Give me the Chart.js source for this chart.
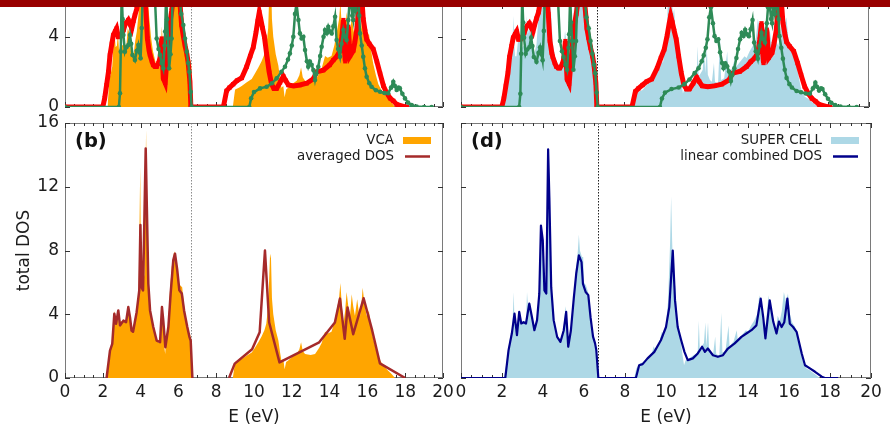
<!DOCTYPE html>
<html>
<head>
<meta charset="utf-8">
<title>Total DOS: VCA vs super cell</title>
<script src="https://cdn.jsdelivr.net/npm/chart.js@4.4.1/dist/chart.umd.min.js"></script>
<style>
  html, body { margin: 0; padding: 0; background: #fff; }
  #page { position: relative; width: 890px; height: 438px; overflow: hidden; background: #fff; }
  #page canvas { position: absolute; }
  #band { position: absolute; left: 0; top: 0; width: 890px; height: 7px; background: #990000; z-index: 5; }
</style>
</head>
<body>
<div id="page">
  <canvas id="tl" width="460" height="130" style="left:0px;top:-11px"></canvas>
  <canvas id="tr" width="438" height="112" style="left:452px;top:0px"></canvas>
  <canvas id="bl" width="460" height="328" style="left:0px;top:110px"></canvas>
  <canvas id="br" width="438" height="328" style="left:452px;top:110px"></canvas>
  <div id="band"></div>
</div>
<script>
// ---------- axis ticks ----------
const X_TICKS = [0, 2, 4, 6, 8, 10, 12, 14, 16, 18, 20];
const Y_TICKS_MAIN = [0, 4, 8, 12, 16];
const Y_TICKS_TOP = [0, 4];
const E_FERMI = 6.67;

// ---------- VCA total DOS (orange area) ----------
const VCA_E = [2.25, 2.35, 2.42, 2.5, 2.58, 2.62, 2.68, 2.75, 2.8, 2.86, 2.95, 3.05, 3.15, 3.25, 3.32, 3.38, 3.45, 3.52, 3.62, 3.72,
  3.8, 3.9, 3.98, 4.02, 4.1, 4.2, 4.29, 4.33, 4.38, 4.45, 4.55, 4.65, 4.8, 4.95, 5.05, 5.12, 5.18, 5.25, 5.3, 5.36,
  5.45, 5.55, 5.65, 5.78, 5.85, 5.92, 6.0, 6.1, 6.2, 6.3, 6.4, 6.5, 6.6, 6.68, 6.72,
  8.88, 8.95, 9.0, 9.2, 9.35, 9.6, 9.88, 10.05, 10.23, 10.4, 10.55, 10.65, 10.75, 10.85, 10.9, 10.95, 11.02, 11.15, 11.29, 11.38,
  11.45, 11.55, 11.62, 11.7, 11.81, 12.0, 12.26, 12.4, 12.49, 12.58, 12.7, 13.0, 13.23, 13.45, 13.58, 13.76, 13.9, 14.1, 14.25, 14.37,
  14.5, 14.57, 14.65, 14.73, 14.82, 14.9, 15.0, 15.08, 15.17, 15.25, 15.34, 15.46, 15.55, 15.61, 15.68, 15.75, 15.85, 15.96, 16.08, 16.2,
  16.3, 16.45, 16.58, 16.75, 16.93, 17.1, 17.28, 17.46];
const VCA_DOS = [0, 1.6, 1.9, 2.3, 3.9, 4.2, 3.4, 3.5, 4.3, 3.2, 3.6, 3.5, 3.6, 3.5, 4.5, 4.3, 3.6, 2.9, 2.9, 3.8,
  4.3, 5.4, 13.3, 6.0, 5.7, 6.5, 15.6, 11.4, 6.2, 5.2, 4.0, 3.2, 2.5, 2.2, 2.4, 4.6, 3.6, 2.0, 1.5, 2.6,
  3.2, 5.4, 7.0, 7.95, 7.6, 7.0, 6.0, 5.8, 5.7, 4.6, 3.6, 2.9, 2.8, 2.4, 0,
  0, 0.6, 1.0, 1.1, 1.2, 1.4, 1.6, 1.9, 2.25, 2.6, 3.0, 3.4, 4.5, 7.8, 7.5, 5.0, 4.0, 3.0, 2.35, 1.6,
  1.1, 1.2, 0.55, 1.0, 1.1, 1.3, 1.5, 1.8, 2.25, 1.7, 1.5, 1.45, 1.5, 1.9, 2.2, 2.9, 2.8, 2.9, 3.5, 4.2,
  5.0, 5.96, 4.5, 3.4, 4.2, 5.4, 4.4, 3.9, 5.26, 4.5, 3.9, 4.94, 4.1, 3.9, 4.6, 5.67, 4.6, 3.9, 4.2, 3.2,
  2.5, 1.8, 1.3, 0.95, 0.67, 0.45, 0.25, 0];

// ---------- averaged DOS (line); null marks the gap ----------
const AVG_E = [2.2, 2.38, 2.5, 2.61, 2.7, 2.82, 2.91, 3.09, 3.23, 3.35, 3.44, 3.52, 3.6, 3.79, 3.93, 3.99, 4.05, 4.13, 4.27, 4.33,
  4.41, 4.5, 4.67, 4.85, 5.03, 5.13, 5.2, 5.31, 5.47, 5.59, 5.73, 5.82, 5.94, 6.05, 6.18, 6.3, 6.47, 6.58, 6.65, 6.74,
  7.7,
  8.68, 8.98, 9.9, 10.3, 10.58, 10.8, 11.35, 13.45, 14.28, 14.55, 14.8, 14.95, 15.25, 15.8, 16.25, 16.66, 18.0];
const AVG_DOS = [0, 1.72, 2.14, 4.03, 3.4, 4.24, 3.3, 3.6, 3.5, 4.45, 3.8, 2.98, 2.9, 4.13, 5.5, 9.6, 5.7, 5.5, 14.4, 10.75,
  5.9, 4.24, 3.2, 2.35, 2.25, 4.45, 3.6, 1.93, 3.2, 5.3, 7.4, 7.8, 6.76, 5.5, 5.3, 4.24, 3.2, 2.6, 2.35, 0,
  null,
  0, 0.9, 1.8, 2.87, 8.0, 3.5, 0.98, 2.24, 3.48, 4.98, 2.46, 4.43, 2.75, 5.0, 3.0, 0.92, 0];

// ---------- super cell total DOS (light blue area) ----------
const SC_E = [2.1, 2.2, 2.3, 2.4, 2.5, 2.57, 2.6, 2.65, 2.72, 2.8, 2.88, 2.95, 3.05, 3.17, 3.22, 3.28, 3.35, 3.45, 3.58, 3.7,
  3.8, 3.88, 3.92, 3.98, 4.05, 4.13, 4.2, 4.25, 4.3, 4.38, 4.5, 4.65, 4.85, 5.0, 5.1, 5.15, 5.22, 5.3, 5.4, 5.5,
  5.6, 5.7, 5.75, 5.8, 5.9, 5.96, 6.0, 6.1, 6.2, 6.3, 6.4, 6.5, 6.6, 6.68, 6.72,
  8.45, 8.55, 8.7, 8.9, 9.1, 9.3, 9.4, 9.5, 9.7, 9.8, 9.9, 10.0, 10.1, 10.2, 10.25, 10.3, 10.38, 10.45, 10.55, 10.7,
  10.8, 10.88, 10.95, 11.1, 11.3, 11.45, 11.55, 11.6, 11.65, 11.75, 11.85, 11.92, 11.97, 12.05, 12.1, 12.2, 12.3, 12.4, 12.45, 12.6,
  12.7, 12.75, 12.9, 13.05, 13.1, 13.3, 13.45, 13.5, 13.7, 13.9, 14.0, 14.15, 14.3, 14.45, 14.55, 14.62, 14.7, 14.8, 14.9, 15.0,
  15.06, 15.15, 15.25, 15.35, 15.45, 15.55, 15.65, 15.75, 15.85, 15.95, 16.05, 16.15, 16.3, 16.4, 16.55, 16.7, 16.85, 17.0, 17.15, 17.35,
  17.5];
const SC_DOS = [0, 0.8, 1.8, 2.6, 3.0, 5.4, 4.0, 3.0, 3.0, 4.0, 4.2, 3.4, 3.6, 3.5, 5.4, 4.3, 4.8, 3.9, 3.1, 3.7,
  5.4, 8.5, 9.8, 8.8, 5.8, 5.6, 10.9, 14.2, 12.0, 6.2, 3.8, 2.7, 2.4, 3.1, 4.5, 4.0, 2.2, 2.6, 3.4, 5.2,
  6.8, 8.0, 9.0, 8.0, 7.6, 7.6, 6.0, 5.8, 5.4, 4.2, 3.0, 2.5, 2.0, 1.0, 0,
  0, 0.6, 0.9, 1.0, 1.3, 1.5, 2.0, 1.7, 2.4, 2.9, 2.6, 3.4, 4.8, 8.5, 11.4, 8.6, 5.4, 5.8, 3.6, 2.5,
  1.5, 0.8, 1.1, 1.2, 1.4, 1.5, 1.7, 3.6, 1.8, 2.0, 2.2, 3.5, 2.0, 3.5, 1.9, 1.6, 1.5, 2.6, 1.5, 1.4,
  4.1, 1.6, 1.7, 3.3, 2.0, 2.3, 3.0, 2.4, 2.7, 3.0, 2.9, 3.3, 3.6, 4.0, 5.2, 4.8, 3.8, 2.8, 3.8, 5.2,
  4.6, 4.4, 3.6, 3.0, 3.9, 3.6, 4.2, 5.4, 4.8, 5.3, 4.0, 3.5, 3.2, 2.8, 1.8, 0.9, 0.6, 0.5, 0.35, 0.15,
  0];

// ---------- linear combined DOS (line) ----------
const LIN_E = [0, 2.16, 2.32, 2.48, 2.61, 2.73, 2.84, 2.94, 3.05, 3.17, 3.33, 3.46, 3.58, 3.71, 3.82, 3.9, 3.99, 4.07, 4.16, 4.25,
  4.31, 4.4, 4.52, 4.69, 4.85, 5.01, 5.13, 5.23, 5.36, 5.5, 5.62, 5.75, 5.88, 5.95, 6.08, 6.21, 6.32, 6.44, 6.54, 6.6,
  6.7, 8.53, 8.69, 8.86, 9.1, 9.43, 9.75, 10.0, 10.16, 10.33, 10.44, 10.57, 10.74, 10.9, 11.06, 11.31, 11.55, 11.76, 11.9, 12.04,
  12.29, 12.53, 12.78, 13.02, 13.35, 13.68, 13.92, 14.17, 14.41, 14.62, 14.74, 14.85, 15.06, 15.23, 15.39, 15.51, 15.64, 15.77, 15.92, 16.04,
  16.2, 16.37, 16.62, 16.78, 17.02, 17.27, 17.6, 17.75, 18.4];
const LIN_DOS = [0, 0, 1.75, 2.79, 4.04, 2.69, 4.15, 3.42, 3.5, 3.42, 4.67, 3.83, 3.0, 3.63, 5.29, 9.56, 8.63, 5.5, 5.3, 14.35,
  11.33, 5.7, 3.63, 2.58, 2.27, 2.98, 4.15, 1.96, 2.98, 4.98, 6.54, 7.69, 7.27, 5.9, 5.4, 5.2, 3.8, 2.6, 2.17, 1.75,
  0, 0, 0.8, 0.87, 1.23, 1.64, 2.37, 3.2, 4.45, 8.0, 4.87, 3.2, 2.37, 1.64, 1.12, 1.23, 1.54, 1.96, 1.64, 1.85,
  1.43, 1.33, 1.43, 1.85, 2.17, 2.58, 2.79, 3.0, 3.3, 4.98, 3.83, 2.48, 4.87, 3.54, 2.79, 3.54, 3.2, 3.5, 4.98, 3.4,
  3.2, 2.9, 1.54, 0.8, 0.6, 0.39, 0.08, 0, 0];

// ---------- constituent DOS curves in the upper panels ----------
const RED_E = [0, 2.0, 2.1, 2.2, 2.3, 2.38, 2.48, 2.56, 2.65, 2.73, 2.82, 2.92, 3.0, 3.1, 3.17, 3.25, 3.35, 3.45, 3.53, 3.62,
  3.7, 3.8, 3.88, 4.0, 4.1, 4.2, 4.28, 4.36, 4.45, 4.5, 4.6, 4.67, 4.76, 4.85, 4.95, 5.03, 5.12, 5.17, 5.2, 5.3,
  5.41, 5.48, 5.56, 5.65, 5.73, 5.9, 6.05, 6.12, 6.17, 6.25, 6.35, 6.45, 6.52, 6.61, 6.66,
  8.38, 8.55, 8.7, 8.9, 9.1, 9.35, 9.61, 9.8, 9.96, 10.1, 10.2, 10.28, 10.36, 10.45, 10.55, 10.67, 10.8, 10.93, 11.05, 11.2,
  11.38, 11.55, 11.68, 11.82, 12.1, 12.43, 12.79, 13.14, 13.32, 13.67, 14.0, 14.2, 14.4, 14.55, 14.65, 14.73, 14.78, 14.83, 14.9, 14.99,
  15.08, 15.25, 15.34, 15.45, 15.52, 15.6, 15.7, 15.78, 15.88, 15.96, 16.1, 16.31, 16.5, 16.67, 16.85, 17.02, 17.2, 17.37, 17.55, 17.9,
  18.1];
const RED_DOS = [0, 0, 0.5, 1.25, 2.0, 2.96, 3.6, 4.1, 4.3, 4.47, 4.0, 4.0, 4.1, 4.4, 4.66, 4.8, 4.95, 4.7, 4.47, 4.9,
  5.23, 5.6, 6.2, 6.6, 6.5, 6.5, 5.5, 3.9, 3.2, 2.96, 2.6, 2.39, 2.3, 2.3, 2.5, 2.8, 3.9, 2.4, 1.63, 1.37,
  2.96, 4.0, 4.85, 5.5, 6.2, 6.5, 6.3, 5.4, 4.66, 4.1, 3.5, 3.0, 2.49, 1.44, 0,
  0, 0.92, 1.1, 1.3, 1.5, 1.65, 2.29, 2.9, 3.4, 4.2, 4.9, 5.4, 5.0, 4.5, 4.0, 3.0, 2.0, 1.3, 1.06, 1.06,
  1.4, 1.75, 1.5, 1.25, 1.2, 1.25, 1.35, 1.6, 2.0, 2.1, 2.39, 2.67, 2.9, 3.2, 4.0, 4.95, 3.3, 2.6, 3.62, 4.57,
  2.9, 3.2, 3.71, 4.5, 5.5, 6.3, 6.3, 5.0, 4.3, 3.85, 3.6, 3.3, 2.6, 1.9, 1.2, 0.8, 0.5, 0.35, 0.15, 0.03,
  0];

const GREEN_E = [0, 2.85, 2.91, 2.95, 3.0, 3.05, 3.09, 3.17, 3.25, 3.35, 3.44, 3.5, 3.57, 3.7, 3.8, 3.88, 3.95, 4.0, 4.06, 4.11,
  4.3, 4.5, 4.7, 4.76, 4.85, 4.95, 5.03, 5.12, 5.2, 5.27, 5.3, 5.35, 5.4, 5.45, 5.51, 5.58, 5.64, 5.7, 5.9, 6.05,
  6.15, 6.26, 6.35, 6.44, 6.52, 6.58, 6.65, 6.7,
  9.75, 9.85, 10.0, 10.32, 10.67, 10.95, 11.2, 11.45, 11.64, 11.8, 11.9, 12.0, 12.08, 12.17, 12.25, 12.35, 12.43, 12.52, 12.61, 12.7,
  12.8, 12.87, 12.96, 13.05, 13.14, 13.23, 13.3, 13.4, 13.5, 13.58, 13.68, 13.76, 13.85, 13.93, 14.02, 14.11, 14.2, 14.29, 14.37, 14.45,
  14.55, 14.63, 14.73, 14.82, 14.9, 14.99, 15.05, 15.12, 15.2, 15.25, 15.3, 15.38, 15.45, 15.52, 15.57, 15.61, 15.7, 15.78, 15.87, 15.96,
  16.1, 16.22, 16.45, 16.67, 16.9, 17.1, 17.25, 17.37, 17.45, 17.55, 17.65, 17.72, 17.85, 17.99, 18.15, 18.34, 18.6, 19.0, 19.4];
const GREEN_DOS = [0, 0, 0.78, 3.15, 6.5, 5.0, 4.1, 3.15, 3.4, 3.53, 4.1, 3.6, 2.96, 2.67, 3.2, 3.53, 3.1, 2.77, 4.5, 6.5,
  8.0, 9.0, 7.0, 6.2, 3.9, 3.3, 2.96, 2.5, 2.2, 3.5, 4.3, 6.5, 5.0, 3.9, 2.2, 3.0, 3.9, 6.5, 8.0, 6.5,
  5.3, 4.66, 3.9, 3.15, 2.5, 2.0, 0.86, 0,
  0, 0.5, 0.85, 1.06, 1.15, 1.35, 1.63, 2.0, 2.29, 2.7, 3.05, 3.5, 4.0, 5.3, 5.9, 4.95, 4.19, 3.9, 4.0, 3.24,
  2.6, 2.29, 2.58, 2.4, 2.1, 1.54, 1.9, 2.29, 2.9, 3.43, 4.0, 4.38, 4.2, 4.57, 4.3, 4.19, 4.6, 5.14, 3.81, 3.3,
  2.86, 3.6, 4.38, 4.0, 3.81, 4.95, 5.9, 6.2, 5.2, 4.95, 5.9, 5.5, 6.0, 6.3, 5.2, 4.19, 3.5, 2.86, 2.2, 1.72,
  1.35, 1.15, 0.95, 0.87, 0.8, 0.78, 1.1, 1.44, 1.2, 0.97, 1.1, 1.06, 0.75, 0.49, 0.25, 0.11, 0.03, 0, 0];

// ---------- styling ----------
const FONT = "'DejaVu Sans', sans-serif";
const INK = '#1c1c1c';
const FRAME = '#7a7a7a';

function points(E, V) { return E.map((e, i) => ({ x: e, y: V[i] })); }

function areaSet(label, E, V, color, order) {
  return { label, data: points(E, V), order, fill: 'origin', backgroundColor: color,
           borderWidth: 0, pointRadius: 0, tension: 0 };
}
function lineSet(label, E, V, color, width, order) {
  return { label, data: points(E, V), order, fill: false, borderColor: color, borderWidth: width,
           pointRadius: 0, tension: 0, spanGaps: false, borderJoinStyle: 'round' };
}
function redSet() {
  return { label: 'red', data: points(RED_E, RED_DOS), order: 2, fill: false, borderColor: '#ff0000',
           borderWidth: 5, pointStyle: 'rect', pointRadius: 3, pointBackgroundColor: '#ff0000',
           pointBorderWidth: 0, tension: 0 };
}
function greenSet() {
  return { label: 'green', data: points(GREEN_E, GREEN_DOS), order: 1, fill: false, borderColor: '#2e8b57',
           borderWidth: 2.5, pointStyle: 'circle', pointRadius: 2.3, pointBackgroundColor: '#2e8b57',
           pointBorderWidth: 0, tension: 0 };
}

// frame, inward ticks and Fermi-level marker under the data; key and panel tag on top
const panelDecor = {
  id: 'decor',
  beforeDatasetsDraw(chart, args, o) {
    const { ctx, chartArea: a, scales: { x, y } } = chart;
    ctx.save();
    const fx = Math.round(x.getPixelForValue(o.fermi)) + 0.5;
    ctx.strokeStyle = o.fermiColor;
    ctx.lineWidth = 1;
    ctx.setLineDash([1.5, 1.5]);
    ctx.beginPath(); ctx.moveTo(fx, a.top); ctx.lineTo(fx, a.bottom); ctx.stroke();
    ctx.setLineDash([]);

    ctx.strokeStyle = FRAME;
    ctx.strokeRect(a.left + 0.5, a.top + 0.5, a.right - a.left - 1, a.bottom - a.top - 1);
    ctx.strokeStyle = '#333';
    ctx.beginPath();
    for (let v = 0; v <= 20.001; v += 0.5) {
      const px = Math.round(x.getPixelForValue(v)) + 0.5;
      const len = (Math.abs(v / 2 - Math.round(v / 2)) < 1e-6) ? 5 : 3;
      ctx.moveTo(px, a.bottom); ctx.lineTo(px, a.bottom - len);
      ctx.moveTo(px, a.top); ctx.lineTo(px, a.top + len);
    }
    o.yTicks.forEach(v => {
      const py = Math.round(y.getPixelForValue(v)) + 0.5;
      ctx.moveTo(a.left, py); ctx.lineTo(a.left + 5, py);
      ctx.moveTo(a.right, py); ctx.lineTo(a.right - 5, py);
    });
    ctx.stroke();
    ctx.restore();
  },
  afterDraw(chart, args, o) {
    const { ctx, chartArea: a } = chart;
    ctx.save();
    if (o.tag) {
      ctx.font = "bold 19.5px " + FONT;
      ctx.fillStyle = '#111';
      ctx.textAlign = 'left';
      ctx.textBaseline = 'middle';
      ctx.fillText(o.tag, a.left + 10, a.top + 19);
    }
    (o.key || []).forEach((k, i) => {
      const cy = a.top + 18 + i * 16;
      const textRight = a.right - 49;
      ctx.font = "13.4px " + FONT;
      ctx.fillStyle = INK;
      ctx.textAlign = 'right';
      ctx.textBaseline = 'middle';
      ctx.fillText(k.text, textRight, cy);
      if (k.kind === 'box') {
        ctx.fillStyle = k.color;
        ctx.fillRect(a.right - 40, cy - 4, 28, 7);
      } else {
        ctx.strokeStyle = k.color;
        ctx.lineWidth = 2.5;
        ctx.beginPath(); ctx.moveTo(a.right - 38, cy - 0.5); ctx.lineTo(a.right - 13, cy - 0.5); ctx.stroke();
      }
    });
    ctx.restore();
  }
};

function makePanel(id, p) {
  const tickFont = { family: FONT, size: 17 };
  return new Chart(document.getElementById(id), {
    type: 'line',
    data: { datasets: p.datasets },
    options: {
      responsive: false,
      animation: false,
      devicePixelRatio: 1,
      layout: { padding: { left: 0, right: p.padRight, top: p.padTop, bottom: 0 } },
      plugins: {
        legend: { display: false },
        tooltip: { enabled: false },
        decor: { fermi: E_FERMI, fermiColor: p.fermiColor, yTicks: p.yTicks, tag: p.tag, key: p.key }
      },
      scales: {
        x: {
          type: 'linear', min: 0, max: 20,
          afterFit(s) { s.height = p.xh; s.paddingLeft = 0; s.paddingRight = 0; },
          afterBuildTicks(s) { s.ticks = X_TICKS.map(v => ({ value: v })); },
          grid: { display: false, drawTicks: false },
          border: { display: false },
          ticks: { display: p.xLabels, color: INK, font: tickFont, padding: 4, maxRotation: 0, autoSkip: false },
          title: { display: p.xLabels, text: 'E (eV)', color: INK,
                   font: { family: FONT, size: 17, lineHeight: 1.2 }, padding: { top: 0, bottom: 10 } }
        },
        y: {
          type: 'linear', min: 0, max: p.ymax,
          afterFit(s) { s.width = p.yw; s.paddingTop = 0; s.paddingBottom = 0; },
          afterBuildTicks(s) { s.ticks = p.yTicks.map(v => ({ value: v })); },
          grid: { display: false, drawTicks: false },
          border: { display: false },
          ticks: { display: p.yLabels, color: INK, font: tickFont, padding: 6 },
          title: { display: !!p.yTitle, text: p.yTitle || '', color: INK,
                   font: { family: FONT, size: 17, lineHeight: 1.2 }, padding: { top: 14, bottom: 0 } }
        }
      }
    },
    plugins: [panelDecor]
  });
}

const TOP_MAX = 6.09;

// upper left: constituents over the VCA DOS
makePanel('tl', {
  datasets: [greenSet(), redSet(), areaSet('VCA', VCA_E, VCA_DOS, '#ffa500', 3)],
  padRight: 17, padTop: 11, xh: 12, yw: 65, ymax: TOP_MAX, yTicks: Y_TICKS_TOP,
  xLabels: false, yLabels: true, fermiColor: '#8c8c8c'
});

// upper right: constituents over the super cell DOS
makePanel('tr', {
  datasets: [greenSet(), redSet(), areaSet('SUPER CELL', SC_E, SC_DOS, '#add8e6', 3)],
  padRight: 21, padTop: 0, xh: 5, yw: 9, ymax: TOP_MAX, yTicks: Y_TICKS_TOP,
  xLabels: false, yLabels: false, fermiColor: '#222'
});

// (b) VCA vs averaged DOS
makePanel('bl', {
  datasets: [lineSet('averaged DOS', AVG_E, AVG_DOS, '#a52a2a', 2.5, 1),
             areaSet('VCA', VCA_E, VCA_DOS, '#ffa500', 2)],
  padRight: 17, padTop: 13, xh: 60, yw: 65, ymax: 16, yTicks: Y_TICKS_MAIN,
  xLabels: true, yLabels: true, yTitle: 'total DOS', fermiColor: '#8c8c8c', tag: '(b)',
  key: [{ text: 'VCA', kind: 'box', color: '#ffa500' },
        { text: 'averaged DOS', kind: 'line', color: '#a52a2a' }]
});

// (d) super cell vs linear combined DOS
makePanel('br', {
  datasets: [lineSet('linear combined DOS', LIN_E, LIN_DOS, '#00008b', 2.2, 1),
             areaSet('SUPER CELL', SC_E, SC_DOS, '#add8e6', 2)],
  padRight: 19, padTop: 13, xh: 60, yw: 9, ymax: 16, yTicks: Y_TICKS_MAIN,
  xLabels: true, yLabels: false, fermiColor: '#222', tag: '(d)',
  key: [{ text: 'SUPER CELL', kind: 'box', color: '#add8e6' },
        { text: 'linear combined DOS', kind: 'line', color: '#00008b' }]
});
</script>
</body>
</html>
